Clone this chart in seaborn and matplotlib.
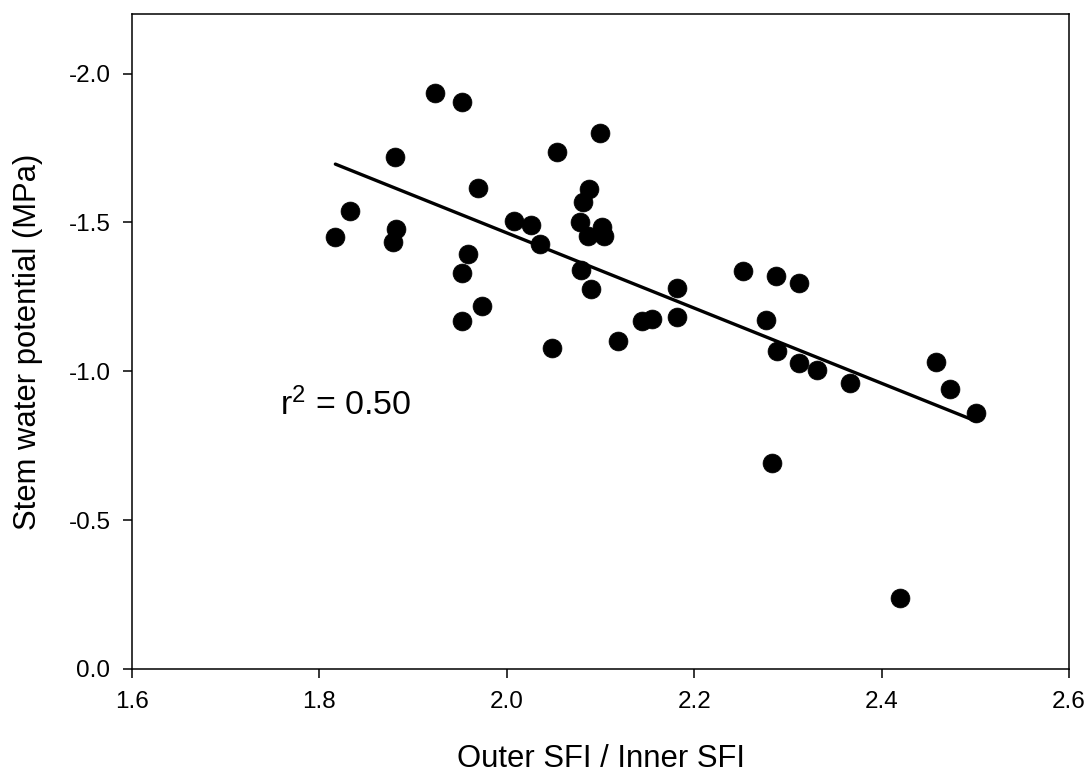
import numpy as np
import pandas as pd
import matplotlib
matplotlib.use('Agg')
import matplotlib.pyplot as plt
import seaborn as sns

sns.set_style('ticks')
plt.rcParams['font.family'] = ['Liberation Sans', 'DejaVu Sans']
plt.rcParams['mathtext.default'] = 'regular'
plt.rcParams['axes.unicode_minus'] = False
plt.rcParams['text.color'] = 'black'
plt.rcParams['axes.labelcolor'] = 'black'

# values
sfi_ratio = [1.817, 1.833, 1.879, 1.882, 1.881, 1.923, 1.952, 1.952, 1.952, 1.959,
             1.969, 1.973, 2.008, 2.026, 2.035, 2.048, 2.054, 2.079, 2.078, 2.081,
             2.088, 2.087, 2.090, 2.099, 2.102, 2.104, 2.119, 2.144, 2.155, 2.182,
             2.182, 2.252, 2.277, 2.287, 2.288, 2.312, 2.312, 2.331, 2.366, 2.283,
             2.420, 2.458, 2.473, 2.501]
stem_wp = [-1.450, -1.539, -1.433, -1.478, -1.719, -1.934, -1.906, -1.329, -1.169, -1.395,
           -1.617, -1.219, -1.506, -1.490, -1.426, -1.077, -1.735, -1.339, -1.501, -1.567,
           -1.612, -1.453, -1.277, -1.800, -1.484, -1.455, -1.102, -1.169, -1.177, -1.278,
           -1.181, -1.336, -1.171, -1.321, -1.067, -1.298, -1.028, -1.003, -0.959, -0.693,
           -0.237, -1.031, -0.940, -0.859]
r2_label = 'r$^2$ = 0.50'
x_ticks = [1.6, 1.8, 2.0, 2.2, 2.4, 2.6]
y_ticks = [0.0, -0.5, -1.0, -1.5, -2.0]

data = pd.DataFrame({'ratio': sfi_ratio, 'swp': stem_wp})

fig = plt.figure(figsize=(10.92, 7.76), dpi=100)
ax = fig.add_axes([0.1209, 0.1379, 0.8581, 0.8441])
sns.regplot(x='ratio', y='swp', data=data, ci=None, color='black', ax=ax,
            scatter_kws={'s': 185, 'alpha': 1, 'edgecolor': 'black', 'linewidths': 0.5},
            line_kws={'lw': 2.4})

ax.set_xlim(1.6, 2.6)
ax.set_ylim(0, -2.2)  # inverted axis
ax.set_xticks(x_ticks)
ax.set_yticks(y_ticks)
ax.set_xticklabels(['%.1f' % t for t in x_ticks], fontsize=17.5, color='black')
ax.set_yticklabels(['%.1f' % t for t in y_ticks], fontsize=17.5, color='black')
ax.tick_params(axis='both', direction='out', length=6.5, width=1.1,
               pad=9, color='black')
for s in ax.spines.values():
    s.set_visible(True)
    s.set_linewidth(1.1)
    s.set_color('black')

ax.set_xlabel('Outer SFI / Inner SFI', fontsize=22.3, labelpad=23, color='black')
ax.set_ylabel('Stem water potential (MPa)', fontsize=22.3, labelpad=18, color='black')
ax.text(1.758, -0.852, r2_label, fontsize=24.5, va='baseline', ha='left', color='black')

fig.savefig('out.png', dpi=100)
